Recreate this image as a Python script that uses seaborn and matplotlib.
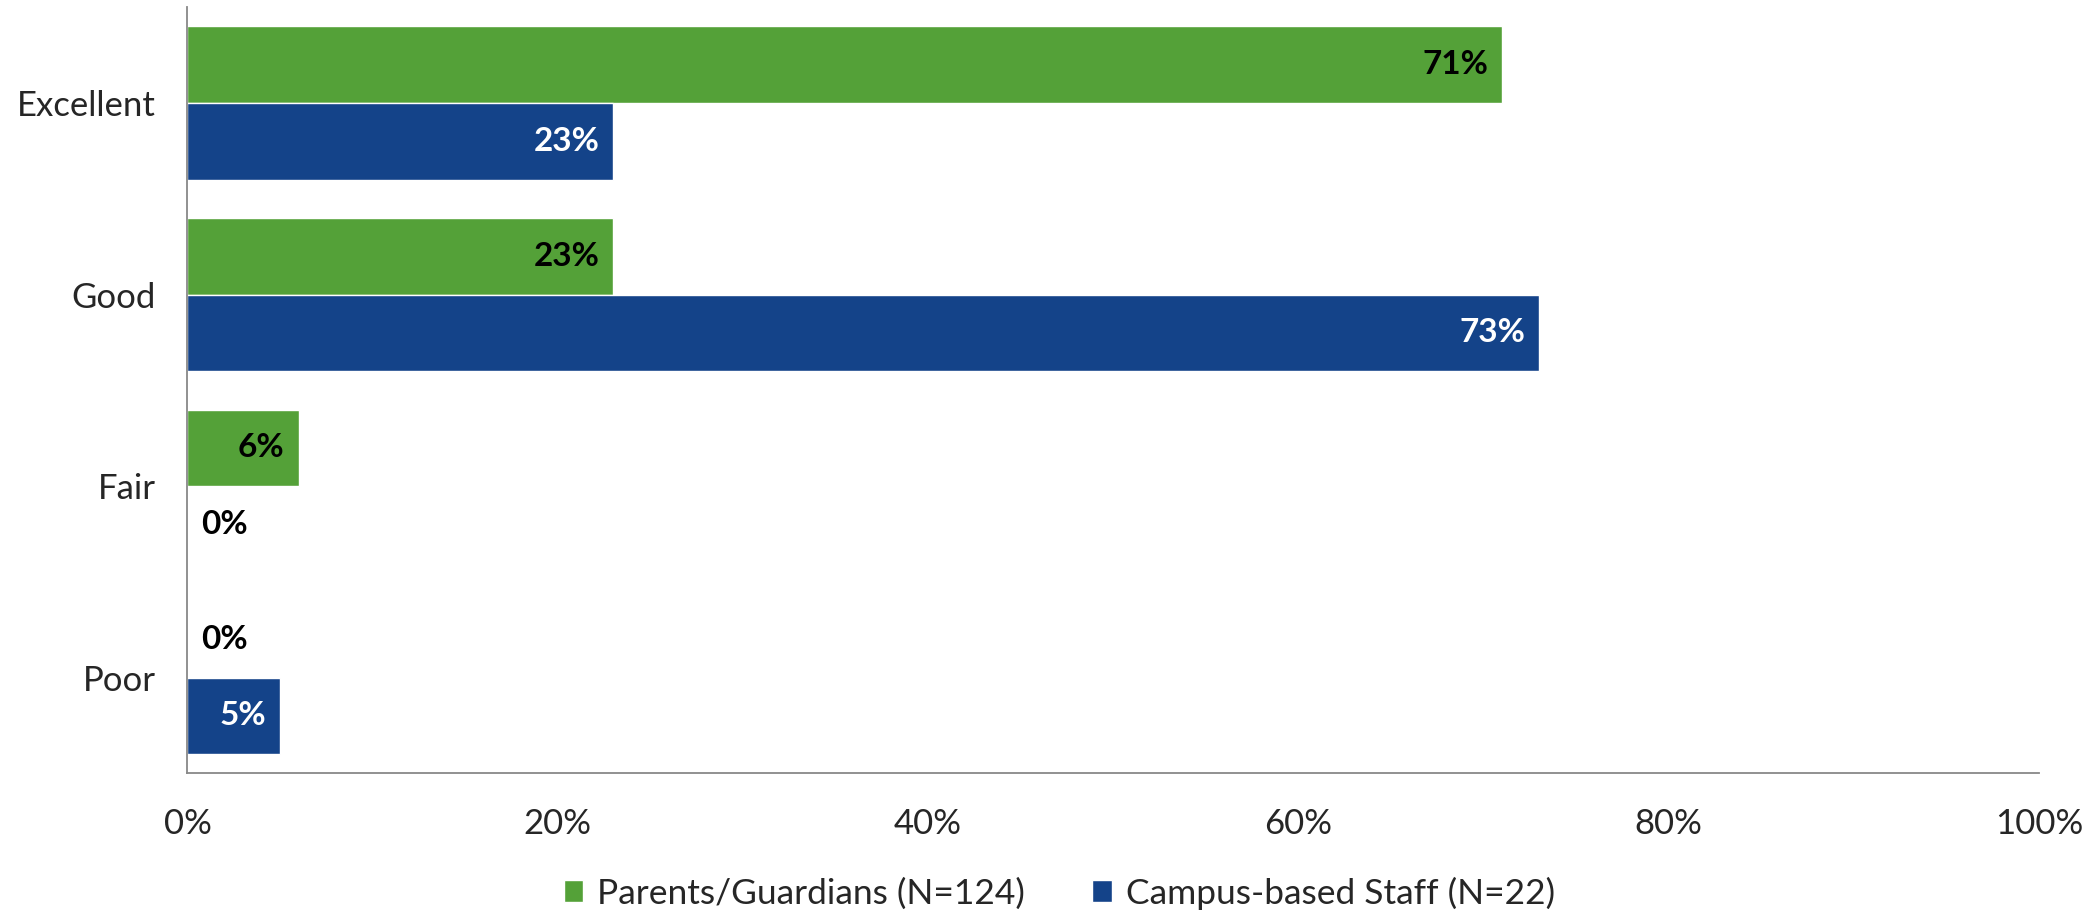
import matplotlib
matplotlib.use("Agg")
import matplotlib.pyplot as plt
import seaborn as sns
import pandas as pd
from matplotlib.ticker import FuncFormatter, FixedLocator

# data
categorias = ["Excellent", "Good", "Fair", "Poor"]
grupos = ["Parents/Guardians (N=124)", "Campus-based Staff (N=22)"]
pais = [71, 23, 6, 0]
staff = [23, 73, 0, 5]

cores = ["#54A138", "#144389"]
cor_texto = ["black", "white"]

df = pd.DataFrame({
    "categoria": categorias * 2,
    "valor": pais + staff,
    "grupo": [grupos[0]] * 4 + [grupos[1]] * 4,
})

sns.set_style("white")
plt.rcParams["font.family"] = ["Lato", "DejaVu Sans"]

fig = plt.figure(figsize=(20.99, 9.11), dpi=100)
ax = fig.add_axes([0.0893, 0.151, 0.882, 0.841])

sns.barplot(data=df, x="valor", y="categoria", hue="grupo", order=categorias,
            hue_order=grupos, palette=cores, orient="h", width=0.8,
            saturation=1, ax=ax)

# rotulos das barras
for cont, cor in zip(ax.containers, cor_texto):
    for barra in cont:
        v = barra.get_width()
        yc = barra.get_y() + barra.get_height() / 2
        if v > 0:
            ax.annotate(f"{v:.0f}%", (v, yc), xytext=(-10, 0), textcoords="offset points",
                        ha="right", va="center", fontsize=24, fontweight="bold", color=cor)
        else:
            ax.annotate(f"{v:.0f}%", (0, yc), xytext=(10, 0), textcoords="offset points",
                        ha="left", va="center", fontsize=24, fontweight="bold", color="black")

ax.set_xlim(0, 100)
ax.set_ylim(len(categorias) - 0.5, -0.5)
ax.set_xticks([0, 20, 40, 60, 80, 100])
ax.xaxis.set_major_formatter(FuncFormatter(lambda x, p: f"{x:.0f}%"))
ax.yaxis.set_minor_locator(FixedLocator([i - 0.5 for i in range(len(categorias) + 1)]))
ax.tick_params(axis="y", which="major", length=0, labelsize=25, pad=23)
ax.tick_params(axis="y", which="minor", length=9, width=1.3, color="#888888", direction="out")
ax.tick_params(axis="x", which="major", length=9, width=1.3, color="#888888", labelsize=25, pad=16)
ax.set_xlabel("")
ax.set_ylabel("")

sns.despine(ax=ax, top=True, right=True)
for lado in ["left", "bottom"]:
    ax.spines[lado].set_color("#888888")
    ax.spines[lado].set_linewidth(1.3)

sns.move_legend(ax, "center", bbox_to_anchor=(0.471, -0.156), ncol=2, frameon=False,
                title=None, fontsize=25.5, handlelength=0.55, handleheight=0.55,
                handletextpad=0.4, columnspacing=1.9)

plt.savefig("out.png", dpi=100)
